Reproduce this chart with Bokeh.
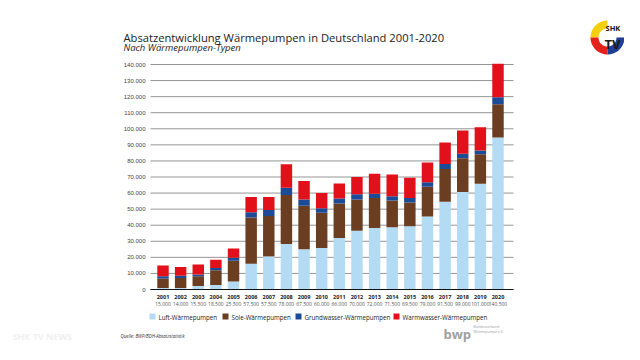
import numpy as np
from bokeh.plotting import figure
from bokeh.models import FixedTicker, LinearAxis, Label, PolyAnnotation
from bokeh.embed import file_html
from bokeh.resources import INLINE

years = list(range(2001, 2021))
luft = [1000, 1000, 2200, 2800, 5000, 16000, 20600, 28300, 25000, 25800,
        32100, 36500, 38300, 38800, 39400, 45400, 54600, 60600, 65800, 94600]
sole = [5800, 6100, 6000, 9200, 12900, 28800, 25200, 30500, 27100, 21900,
        21400, 19500, 18600, 16600, 14800, 18600, 20400, 21100, 18400, 20700]
grundwasser = [1400, 1400, 1100, 1400, 1900, 3300, 3600, 4500, 3900, 2900,
               3200, 3200, 2700, 2700, 2700, 2700, 3100, 2700, 2300, 4400]
warmwasser = [6800, 5500, 6200, 5100, 5700, 9400, 8100, 14700, 11500, 9400,
              9300, 10800, 12400, 13400, 12600, 12300, 13400, 14600, 14500, 20800]
totals = ["15.000", "14.000", "15.500", "18.500", "25.500", "57.500", "57.500",
          "78.000", "67.500", "60.000", "66.000", "70.000", "72.000", "71.500",
          "69.500", "79.000", "91.500", "99.000", "101.000", "140.500"]
series = ["Luft", "Sole", "Grundwasser", "Warmwasser"]
series_labels = ["Luft-Wärmepumpen", "Sole-Wärmepumpen",
                 "Grundwasser-Wärmepumpen", "Warmwasser-Wärmepumpen"]
colors = ["#b3dcf4", "#6b3e22", "#1c4b97", "#e1101a"]
yticks = list(range(0, 140001, 10000))

W, H = 624, 344
# chart area in canvas pixels: x 150..513, y(0)=289, y(140000)=64
X_LEFT, X_RIGHT = 2000.29, 2020.88
px_per_year = (497.5 - 162.5) / 19
px_per_unit = (289 - 64) / 140000
x0 = 2001 - 162.5 / px_per_year
x1 = 2001 + (W - 162.5) / px_per_year
y0 = -(H - 289) / px_per_unit
y1 = 289 / px_per_unit

p = figure(width=W, height=H, output_backend="svg", toolbar_location=None,
           x_range=(x0, x1), y_range=(y0, y1),
           min_border=0, x_axis_location=None, y_axis_location=None)
p.outline_line_color = None
p.background_fill_color = "white"
p.border_fill_color = "white"
p.xgrid.grid_line_color = None
p.ygrid.grid_line_color = None

# horizontal grid lines, limited to the chart area
p.segment(x0=[X_LEFT] * len(yticks), x1=[X_RIGHT] * len(yticks), y0=yticks, y1=yticks,
          line_color="#959595", line_width=1)

data = dict(year=years, Luft=luft, Sole=sole, Grundwasser=grundwasser,
            Warmwasser=warmwasser)
rs = p.vbar_stack(series, x="year", width=0.65, source=data, color=colors,
                  line_color=None)


def plain_axis(ax):
    ax.major_tick_line_color = None
    ax.minor_tick_line_color = None
    ax.major_tick_out = 0
    ax.major_tick_in = 0
    ax.minor_tick_out = 0
    ax.minor_tick_in = 0


# y axis
yax = LinearAxis(ticker=FixedTicker(ticks=yticks), fixed_location=X_LEFT,
                 bounds=(0, 140000))
yax.major_label_overrides = {t: (f"{t:,}".replace(",", ".") if t else "0") for t in yticks}
yax.axis_line_color = None
plain_axis(yax)
yax.major_label_text_font = "Liberation Sans"
yax.major_label_text_font_size = "6px"
yax.major_label_text_color = "#444444"
yax.major_label_standoff = 5
p.add_layout(yax, "left")

# x axis: years
xax = LinearAxis(ticker=FixedTicker(ticks=years), fixed_location=0,
                 bounds=(X_LEFT, X_RIGHT))
xax.major_label_overrides = {y: str(y) for y in years}
xax.axis_line_color = "#111111"
xax.axis_line_width = 1
plain_axis(xax)
xax.major_label_text_font = "Open Sans"
xax.major_label_text_font_style = "bold"
xax.major_label_text_font_size = "5.5px"
xax.major_label_text_color = "#222222"
xax.major_label_standoff = 5
p.add_layout(xax, "below")

# x axis: totals
tax = LinearAxis(ticker=FixedTicker(ticks=years), fixed_location=0,
                 bounds=(X_LEFT, X_RIGHT))
tax.major_label_overrides = {y: t for y, t in zip(years, totals)}
tax.axis_line_color = None
plain_axis(tax)
tax.major_label_text_font = "Open Sans"
tax.major_label_text_font_size = "5px"
tax.major_label_text_color = "#555555"
tax.major_label_standoff = 12
p.add_layout(tax, "below")


def label(x, y, text, size, color="#222222", style="normal", font="Open Sans",
          baseline="alphabetic"):
    p.add_layout(Label(x=x, y=H - y, x_units="screen", y_units="screen",
                       text=text, text_font=font, text_font_style=style,
                       text_font_size=size, text_color=color,
                       text_baseline=baseline))


def poly(xs, ys, color):
    p.add_layout(PolyAnnotation(xs=list(xs), ys=[H - v for v in ys],
                                xs_units="screen", ys_units="screen",
                                fill_color=color, fill_alpha=1, line_color=None))


# legend (manual)
leg_sq = [152, 225, 298, 396]
leg_y = 316
for cxx, lab, col in zip(leg_sq, series_labels, colors):
    poly([cxx - 3, cxx + 3, cxx + 3, cxx - 3], [leg_y - 3, leg_y - 3, leg_y + 3, leg_y + 3], col)
    label(cxx + 6, leg_y + 0.5, lab, "6.2px", baseline="middle")

# title / subtitle / source
label(123, 37, "Absatzentwicklung Wärmepumpen in Deutschland 2001-2020", "11.2px")
label(123, 47, "Nach Wärmepumpen-Typen", "9.5px", style="italic")
label(120, 335, "Quelle: BWP/BDH-Absatzstatistik", "4.5px", color="#333333", style="italic")

# bwp logo text
label(443, 333, "bwp", "13px", color="#a0a0a0", style="bold")
label(473, 326, "Bundesverband", "3.5px", color="#a0a0a0")
label(473, 331, "Wärmepumpe e.V.", "3.5px", color="#a0a0a0")

# faint watermark
label(12, 336, "SHK TV NEWS", "9px", color="#f0f0f0", style="bold")

# SHK TV ring logo
cx, cy = 607, 37
r_out, r_in = 17, 9
for a0, a1, col in [(90, 180, "#f4cf0c"), (180, 270, "#e3231b"), (270, 360, "#1e3f93")]:
    t = np.radians(np.linspace(a0, a1, 24))
    xs = list(cx + r_out * np.cos(t)) + list(cx + r_in * np.cos(t[::-1]))
    ys = list(cy - r_out * np.sin(t)) + list(cy - r_in * np.sin(t[::-1]))
    poly(xs, ys, col)
label(605, 27, "SHK", "7.5px", color="#111111", style="bold")
label(604, 43, "TV", "13px", color="#1a1a1a", style="bold")

open("out.html", "w").write(file_html(p, INLINE))
